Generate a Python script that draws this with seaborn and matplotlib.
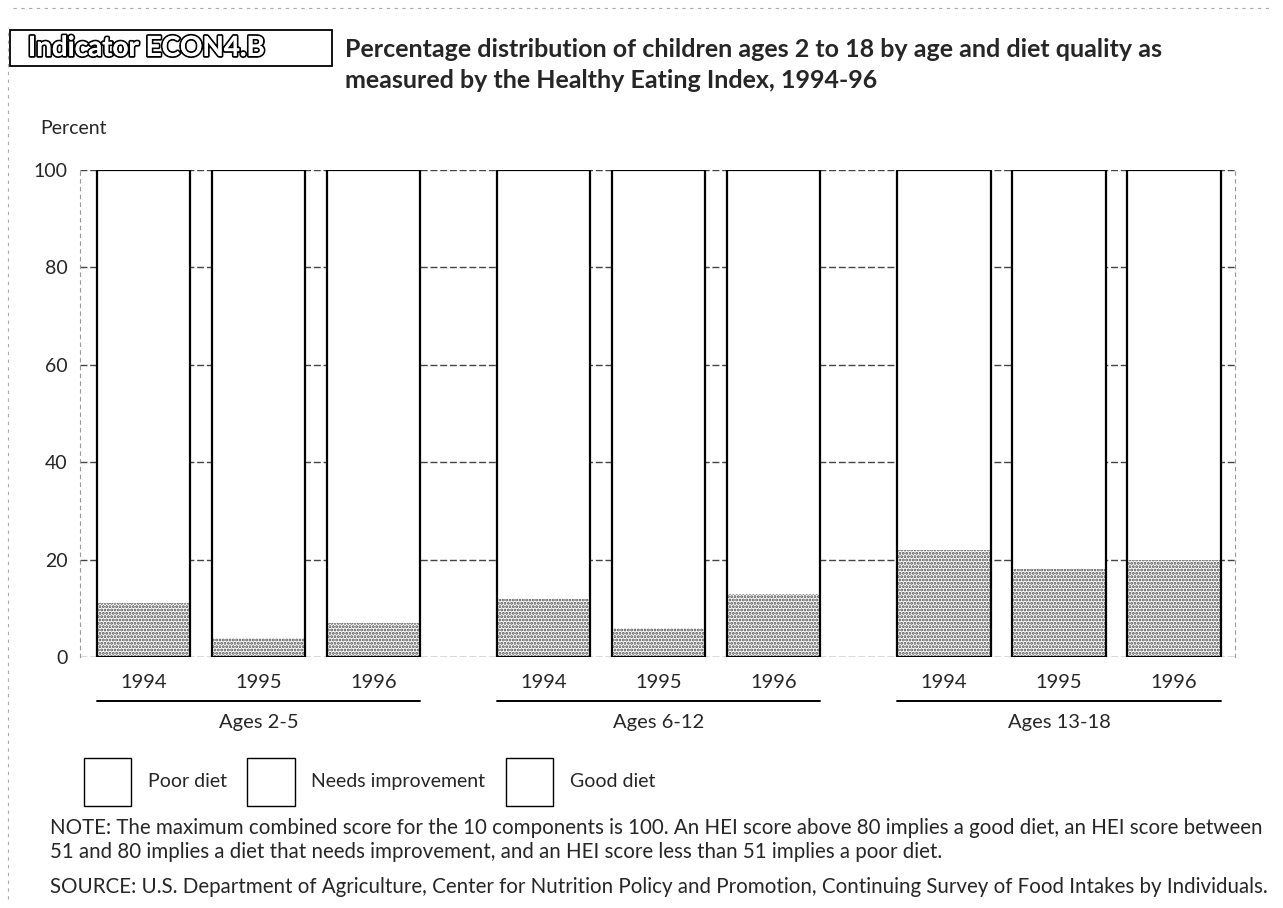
"""
Indicator ECON4.B - diet quality of children by age (Healthy Eating Index, 1994-96)
"""

import pandas as pd
import numpy as np
import matplotlib
matplotlib.use("Agg")
import matplotlib.pyplot as plt
import matplotlib.patches as mpatches
import matplotlib.patheffects as pe
import matplotlib.transforms as mtransforms
import seaborn as sns

# ─────────────────────────────────────────────
# DATA
# ─────────────────────────────────────────────
age_groups = ["Ages 2-5", "Ages 6-12", "Ages 13-18"]
years = ["1994", "1995", "1996"]
diet_labels = ["Poor diet", "Needs improvement", "Good diet"]

poor_diet = [11, 4, 7, 12, 6, 13, 22, 18, 20]
good_diet = [24, 23, 21, 13, 14, 10, 6, 5, 6]
needs_improvement = [100 - p - g for p, g in zip(poor_diet, good_diet)]

y_ticks = [0, 20, 40, 60, 80, 100]

note_text = ("NOTE: The maximum combined score for the 10 components is 100. An HEI score above 80 implies a good diet, an HEI score between\n"
             "51 and 80 implies a diet that needs improvement, and an HEI score less than 51 implies a poor diet.")
source_text = ("SOURCE: U.S. Department of Agriculture, Center for Nutrition Policy and Promotion, "
               "Continuing Survey of Food Intakes by Individuals.")
title_text = ("Percentage distribution of children ages 2 to 18 by age and diet quality as\n"
              "measured by the Healthy Eating Index, 1994-96")

# ─────────────────────────────────────────────
# TABLE
# ─────────────────────────────────────────────
group_step = 3.48
rows = []
for gi, grp in enumerate(age_groups):
    for yi, yr in enumerate(years):
        k = gi * 3 + yi
        rows.append({
            "group": grp, "year": yr, "pos": gi * group_step + yi,
            "poor": poor_diet[k],
            "poor_needs": poor_diet[k] + needs_improvement[k],
            "total": poor_diet[k] + needs_improvement[k] + good_diet[k],
        })
df = pd.DataFrame(rows)

# ─────────────────────────────────────────────
# FIGURE
# ─────────────────────────────────────────────
sns.set_theme(style="white")
plt.rcParams["font.family"] = ["Lato", "DejaVu Sans"]
plt.rcParams["hatch.linewidth"] = 1.4

fig = plt.figure(figsize=(12.83, 9.08), dpi=100)
ax = fig.add_axes([80 / 1283, 251 / 908, 1155 / 1283, 487 / 908])

bar_w = 0.81
# segments: good diet (top), needs improvement, poor diet (stippled)
sns.barplot(data=df, x="pos", y="total", native_scale=True, width=bar_w,
            color="white", edgecolor="white", linewidth=0, errorbar=None,
            ax=ax, zorder=2)
sns.barplot(data=df, x="pos", y="poor_needs", native_scale=True, width=bar_w,
            color="white", edgecolor="white", linewidth=0, errorbar=None,
            ax=ax, zorder=2)
sns.barplot(data=df, x="pos", y="poor", native_scale=True, width=bar_w,
            color="white", edgecolor="#4a4a4a", linewidth=0, hatch=".....",
            errorbar=None, ax=ax, zorder=3)
sns.barplot(data=df, x="pos", y="total", native_scale=True, width=bar_w,
            fill=False, edgecolor="black", linewidth=1.6, errorbar=None,
            ax=ax, zorder=4)

ax.set_xlim(-0.552, 9.49)
ax.set_ylim(0, 100)
ax.set_yticks(y_ticks)
ax.set_yticklabels([str(t) for t in y_ticks], fontsize=14)
ax.set_xticks(df["pos"])
ax.set_xticklabels(df["year"], fontsize=14.5)
ax.tick_params(axis="x", length=0, pad=12)
ax.tick_params(axis="y", length=0, pad=9)
ax.set_xlabel("")
ax.set_ylabel("")

for y in y_ticks:
    ax.axhline(y, color="#444444", linewidth=1, linestyle=(0, (5, 2)), zorder=1)

for side in ["top", "bottom"]:
    ax.spines[side].set_visible(False)
for side in ["left", "right"]:
    ax.spines[side].set_linestyle((0, (3, 4)))
    ax.spines[side].set_color("#999999")
    ax.spines[side].set_linewidth(0.8)

# group underlines + labels
trans = mtransforms.blended_transform_factory(ax.transData, ax.transAxes)
for gi, grp in enumerate(age_groups):
    x0 = gi * group_step - bar_w / 2
    x1 = gi * group_step + 2 + bar_w / 2
    ax.plot([x0, x1], [-0.090, -0.090], color="black", linewidth=1.4,
            transform=trans, clip_on=False)
    ax.text((x0 + x1) / 2, -0.134, grp, transform=trans, ha="center",
            va="center", fontsize=14.5)

# ─────────────────────────────────────────────
# TEXT
# ─────────────────────────────────────────────
fig.text(345 / 1283, 1 - 65 / 908, title_text, fontsize=18, fontweight="bold",
         ha="left", va="center", linespacing=1.38)
fig.text(40 / 1283, 1 - 128 / 908, "Percent", fontsize=14, ha="left", va="center")

fig.patches.append(mpatches.Rectangle((10 / 1283, 1 - 66 / 908), 322 / 1283, 36 / 908,
                                      transform=fig.transFigure, fill=False,
                                      edgecolor="black", linewidth=1.3))
t = fig.text(28 / 1283, 1 - 48 / 908, "Indicator ECON4.B", fontsize=20,
             fontweight="bold", color="white", ha="left", va="center")
t.set_path_effects([pe.withStroke(linewidth=2.6, foreground="black"), pe.Normal()])

handles = [mpatches.Patch(facecolor="white", edgecolor="black", linewidth=1)
           for _ in diet_labels]
fig.legend(handles, diet_labels, loc="center left",
           bbox_to_anchor=(66 / 1283, 1 - 782 / 908), ncol=3, frameon=False,
           fontsize=14, handlelength=2.45, handleheight=3.43,
           handletextpad=0.85, columnspacing=1.05)

fig.text(50 / 1283, 1 - 840 / 908, note_text, fontsize=14.8, ha="left",
         va="center", linespacing=1.3)
fig.text(50 / 1283, 1 - 887 / 908, source_text, fontsize=14.8, ha="left", va="center")

# scanned page border (faint)
fig.add_artist(plt.Line2D([8 / 1283, 8 / 1283], [0.01, 0.97], transform=fig.transFigure,
                          color="#aaaaaa", linewidth=0.8, linestyle=(0, (3, 4))))
fig.add_artist(plt.Line2D([0.01, 0.99], [1 - 8 / 908, 1 - 8 / 908], transform=fig.transFigure,
                          color="#aaaaaa", linewidth=0.8, linestyle=(0, (3, 4))))

fig.savefig("out.png", dpi=100)
plt.close(fig)
